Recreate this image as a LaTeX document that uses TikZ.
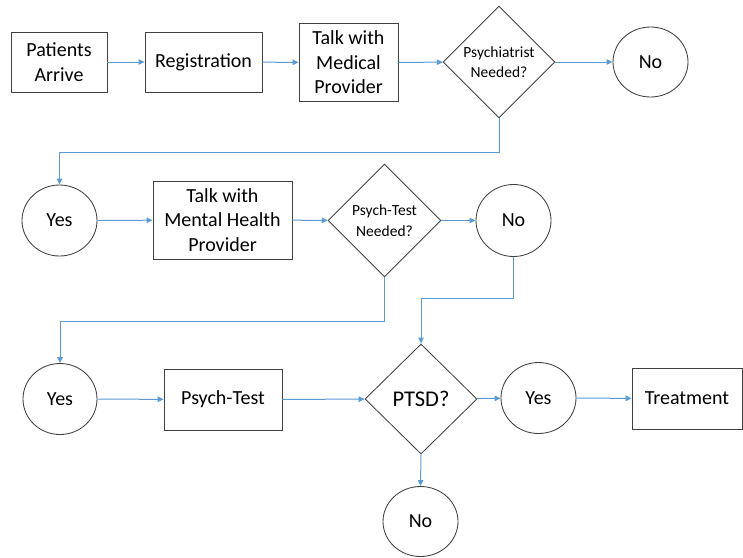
\documentclass[tikz,border=0pt]{standalone}
\usepackage{fontspec}
\setmainfont{Carlito}
\usetikzlibrary{shapes.geometric,arrows.meta}
\definecolor{flowblue}{RGB}{91,155,213}
\definecolor{edgegray}{RGB}{64,64,64}
\tikzset{
  base/.style={draw=edgegray, line width=0.85pt, inner sep=0pt, align=center,
    font=\fontsize{20}{24.5}\selectfont},
  procbox/.style={base, rectangle},
  endpoint/.style={base, ellipse},
  decision/.style={base, diamond},
  arr/.style={draw=flowblue, line width=1pt, -{Triangle[length=6pt,width=5.5pt]}},
}
\begin{document}
\begin{tikzpicture}[x=1pt, y=-1pt]
\useasboundingbox (0,0) rectangle (743,557);

% first row
\node[procbox, minimum width=96pt, minimum height=60pt] (pa) at (59,62) {Patients\\Arrive};
\node[procbox, minimum width=117pt, minimum height=60pt] (reg) at (203.5,62) {Registration};
\node[procbox, minimum width=99pt, minimum height=78pt] (med) at (348.5,62.5) {Talk with\\Medical\\Provider};
\node[decision, minimum width=112pt, minimum height=112pt,
      font=\fontsize{15.5}{19.5}\selectfont] (psy) at (499,62) {Psychiatrist\\Needed?};
\node[endpoint, minimum width=75pt, minimum height=70pt] (no1) at (650.5,62) {No};

% second row
\node[endpoint, minimum width=75pt, minimum height=71pt] (yes1) at (59.5,220.5) {Yes};
\node[procbox, minimum width=139pt, minimum height=78pt] (mh) at (222.5,220) {Talk with\\Mental Health\\Provider};
\node[decision, minimum width=113pt, minimum height=113pt,
      font=\fontsize{15.5}{20.5}\selectfont] (ptn) at (384.5,220.5) {Psych-Test\\Needed?};
\node[endpoint, minimum width=75pt, minimum height=72pt] (no2) at (513.5,220.5) {No};

% third row
\node[endpoint, minimum width=74pt, minimum height=71pt] (yes2) at (60,399) {Yes};
\node[procbox, minimum width=118pt, minimum height=61pt] (pt) at (223,399.5) {Psych-Test};
\node[decision, minimum width=112pt, minimum height=110pt,
      font=\fontsize{22.5}{27}\selectfont] (ptsd) at (421,399) {PTSD?};
\node[endpoint, minimum width=75pt, minimum height=71pt] (yes3) at (538.5,398) {Yes};
\node[procbox, minimum width=110pt, minimum height=61pt] (tr) at (687,398.5) {Treatment};
\node[endpoint, minimum width=75pt, minimum height=70pt] (no3) at (420.5,521.5) {No};

% bend levels of the elbow connectors
\coordinate (bend1) at (0,152);
\coordinate (bend2) at (0,321);
\coordinate (bend3) at (0,298);

% connectors
\draw[arr] (pa) -- (reg);
\draw[arr] (reg) -- (med);
\draw[arr] (med) -- (psy);
\draw[arr] (psy) -- (no1);
\draw[arr] (psy.south) -- (psy.south |- bend1) -| (yes1.north);
\draw[arr] (yes1) -- (mh);
\draw[arr] (mh) -- (ptn);
\draw[arr] (ptn) -- (no2);
\draw[arr] (ptn.south) -- (ptn.south |- bend2) -| (yes2.north);
\draw[arr] (no2.south) -- (no2.south |- bend3) -| (ptsd.north);
\draw[arr] (yes2) -- (pt);
\draw[arr] (pt) -- (ptsd);
\draw[arr] (ptsd) -- (yes3);
\draw[arr] (yes3) -- (tr);
\draw[arr] (ptsd.south) -- (no3.north);
\end{tikzpicture}
\end{document}
